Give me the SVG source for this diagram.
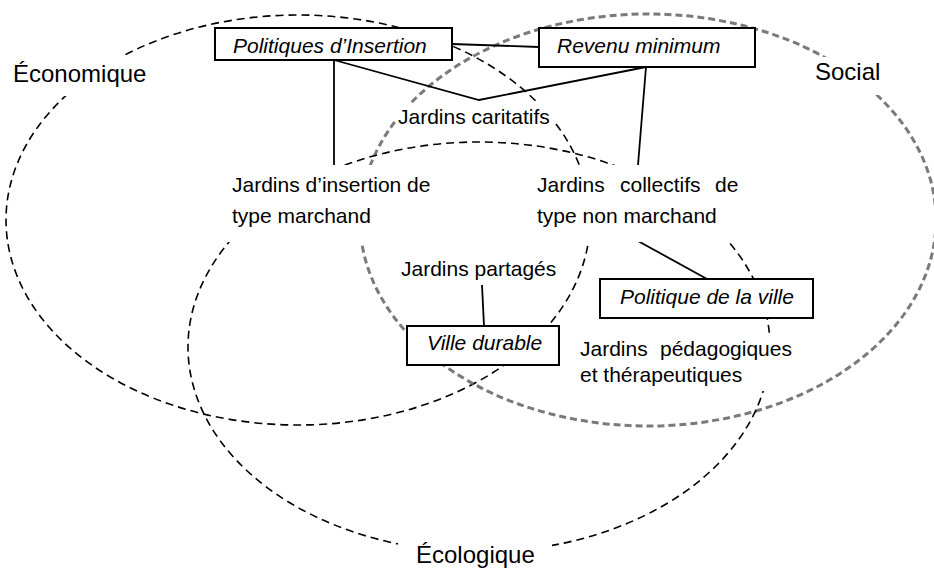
<svg xmlns="http://www.w3.org/2000/svg" width="934" height="568" viewBox="0 0 934 568">
<style>
text{font-family:"Liberation Sans",Arial,sans-serif;font-size:21px;fill:#000}
.lbl{font-size:24px}
.it{font-style:italic}
.blk{fill:none;stroke:#000;stroke-width:1.6;stroke-dasharray:8 5}
.gry{fill:none;stroke:#7a7a7a;stroke-width:3;stroke-dasharray:7 4}
.box{fill:#fff;stroke:#000;stroke-width:2}
.bg{fill:#fff;stroke:none}
.con{fill:none;stroke:#000;stroke-width:1.8}
</style>
<rect width="934" height="568" fill="#fff"/>
<g id="ellipses">
<ellipse id="eco-circle" class="blk" cx="298" cy="220" rx="292" ry="205"/>
<ellipse id="social-circle" class="gry" cx="648" cy="220" rx="288" ry="206"/>
<ellipse id="ecolo-circle" class="blk" cx="479" cy="347" rx="291" ry="205"/>
</g>
<g id="label-economique"><rect class="bg" x="8" y="56" width="142" height="40"/><text class="lbl" x="13" y="82">Économique</text></g>
<g id="label-social"><rect class="bg" x="812" y="57" width="72" height="38"/><text class="lbl" x="815" y="80">Social</text></g>
<g id="label-ecologique"><rect class="bg" x="398" y="532" width="154" height="36"/><text class="lbl" x="416" y="563">Écologique</text></g>
<g id="connectors">
<line class="con" x1="452" y1="44" x2="539" y2="47"/>
<line class="con" x1="334" y1="60" x2="334" y2="165"/>
<polyline class="con" points="334,60 479,100 646,67"/>
<line class="con" x1="646" y1="67" x2="638" y2="165"/>
<line class="con" x1="638" y1="241" x2="707" y2="279"/>
<line class="con" x1="482" y1="285" x2="484" y2="326"/>
</g>
<g id="politiques-insertion"><rect class="box" x="215" y="28" width="237" height="32"/><text class="it" x="233" y="53">Politiques d’Insertion</text></g>
<g id="revenu-minimum"><rect class="box" x="539" y="28" width="216" height="39"/><text class="it" x="557" y="53">Revenu minimum</text></g>
<g id="jardins-caritatifs"><rect class="bg" x="396" y="104" width="158" height="26"/><text x="398" y="124">Jardins caritatifs</text></g>
<g id="jardins-insertion"><rect class="bg" x="222" y="165" width="222" height="77"/><text x="232" y="192">Jardins d’insertion de</text><text x="232" y="223">type marchand</text></g>
<g id="jardins-collectifs"><rect class="bg" x="530" y="165" width="218" height="77"/><text x="537" y="192"><tspan x="537">Jardins</tspan><tspan x="620">collectifs</tspan><tspan x="715">de</tspan></text><text x="537" y="223">type non marchand</text></g>
<g id="jardins-partages"><text x="401" y="276">Jardins partagés</text></g>
<g id="politique-ville"><rect class="box" x="600" y="279" width="213" height="39"/><text class="it" x="620" y="304">Politique de la ville</text></g>
<g id="ville-durable"><rect class="box" x="407" y="326" width="152" height="39"/><text class="it" x="427" y="350">Ville durable</text></g>
<g id="jardins-pedagogiques"><rect class="bg" x="575" y="334" width="224" height="57"/><text x="580" y="356"><tspan x="580">Jardins</tspan><tspan x="660">pédagogiques</tspan></text><text x="580" y="382">et thérapeutiques</text></g>
</svg>
